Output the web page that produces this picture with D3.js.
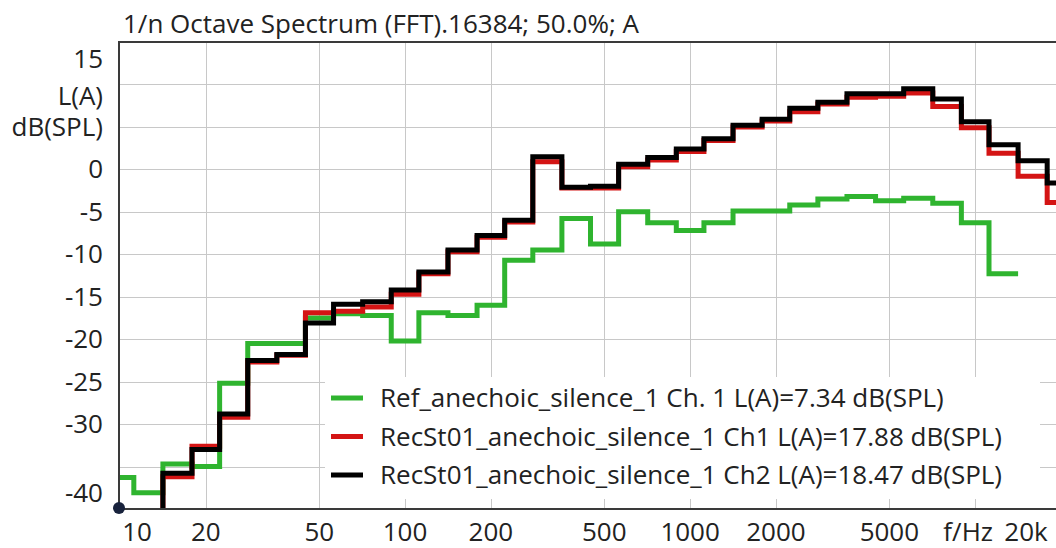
<!DOCTYPE html>
<html>
<head>
<meta charset="utf-8">
<script src="https://cdn.jsdelivr.net/npm/d3@7"></script>
<style>
  body { margin: 0; background: #fff; }
  text { font-family: "Open Sans", "Noto Sans", sans-serif; fill: #222; }
</style>
</head>
<body>
<svg width="1056" height="548"></svg>
<script>
// 1/3 octave band centres (Hz)
var bands = [10, 12.5, 16, 20, 25, 31.5, 40, 50, 63, 80, 100, 125, 160, 200, 250, 315, 400, 500,
             630, 800, 1000, 1250, 1600, 2000, 2500, 3150, 4000, 5000, 6300, 8000, 10000, 12500, 16000, 20000];

// band levels, dB(SPL) A-weighted
var refCh1 = [-36.3, -38.1, -34.7, -35.0, -25.2, -20.5, -20.5, -17.5, -17.0, -17.2, -20.2, -16.9, -17.2, -16.0, -10.7, -9.5, -5.8, -8.8,
              -5.0, -6.3, -7.2, -6.3, -4.9, -4.9, -4.2, -3.5, -3.2, -3.7, -3.4, -4.0, -6.3, -12.3, null, null];
var recCh1 = [null, -48, -36.2, -32.6, -29.2, -22.7, -21.9, -16.9, -16.7, -16.2, -14.7, -12.3, -9.7, -8.0, -6.2, 0.9, -2.2, -2.2,
              0.3, 1.1, 2.1, 3.4, 5.0, 5.7, 6.8, 7.7, 8.5, 8.6, 9.0, 7.4, 4.9, 1.9, -0.8, -3.9];
var recCh2 = [null, -48, -35.8, -33.0, -28.8, -22.5, -21.8, -18.1, -15.9, -15.6, -14.2, -12.1, -9.5, -7.8, -6.0, 1.5, -2.1, -2.0,
              0.6, 1.4, 2.4, 3.6, 5.2, 5.9, 7.2, 7.9, 8.9, 8.9, 9.5, 8.3, 5.6, 2.9, 1.0, -1.6];

var seriesNames = ["Ref_anechoic_silence_1 Ch. 1 L(A)=7.34 dB(SPL)",
                   "RecSt01_anechoic_silence_1 Ch1 L(A)=17.88 dB(SPL)",
                   "RecSt01_anechoic_silence_1 Ch2 L(A)=18.47 dB(SPL)"];
var seriesColors = ["#2fb42f", "#d41414", "#000000"];

var xGrid = [20, 50, 100, 200, 500, 1000, 2000, 5000, 10000];
var xLabels = ["10", "20", "50", "100", "200", "500", "1000", "2000", "5000", "f/Hz", "20k"];
var xLabelVals = [10, 20, 50, 100, 200, 500, 1000, 2000, 5000, 10000, 20000];
var yGrid = [-40, -35, -30, -25, -20, -15, -10, -5, 0, 5, 10, 15];
var yLabels = ["15", "L(A)", "dB(SPL)", "0", "-5", "-10", "-15", "-20", "-25", "-30", "-40"];
var yLabelVals = [15, 10, 5, 0, -5, -10, -15, -20, -25, -30, -40];

var title = "1/n Octave Spectrum (FFT).16384; 50.0%; A";

var svg = d3.select("svg");
var pLeft = 120, pTop = 42, pBottom = 509, pRight = 1061;
var fs = 26;

var x = d3.scaleLog().domain([10, 20000]).range([pLeft, pRight]);
var y = d3.scaleLinear().domain([-40, 15]).range([pBottom, pTop]);

// band edges: geometric midpoints between centres
var edges = [];
for (var i = 0; i <= bands.length; i++) {
  if (i == 0) edges.push(bands[0] / Math.pow(10, 0.05));
  else if (i == bands.length) edges.push(bands[i - 1] * Math.pow(10, 0.05));
  else edges.push(Math.sqrt(bands[i - 1] * bands[i]));
}

svg.append("clipPath").attr("id", "plot")
  .append("rect").attr("x", pLeft - 1).attr("y", pTop).attr("width", pRight - pLeft + 1).attr("height", pBottom - pTop);

// grid
var grid = svg.append("g").attr("stroke", "#c8c8c8").attr("stroke-width", 1);
grid.selectAll(".gx").data(xGrid).enter().append("line")
  .attr("x1", function(d) { return Math.round(x(d)) + 0.5; })
  .attr("x2", function(d) { return Math.round(x(d)) + 0.5; })
  .attr("y1", pTop).attr("y2", pBottom);
grid.selectAll(".gy").data(yGrid).enter().append("line")
  .attr("x1", pLeft).attr("x2", 1056)
  .attr("y1", function(d) { return Math.round(y(d)) + 0.5; })
  .attr("y2", function(d) { return Math.round(y(d)) + 0.5; });

// step lines
function stepPoints(vals) {
  var pts = [];
  vals.forEach(function(v, i) {
    pts.push([edges[i], v]);
    pts.push([edges[i + 1], v]);
  });
  return pts;
}
var line = d3.line()
  .defined(function(d) { return d[1] != null; })
  .x(function(d) { return x(d[0]); })
  .y(function(d) { return y(d[1]); });

var lines = svg.append("g").attr("clip-path", "url(#plot)");
[refCh1, recCh1, recCh2].forEach(function(vals, i) {
  lines.append("path")
    .attr("d", line(stepPoints(vals)))
    .attr("fill", "none")
    .attr("stroke", seriesColors[i])
    .attr("stroke-width", 5)
    .attr("stroke-linejoin", "miter");
});

// frame
var frame = svg.append("g").attr("stroke", "#3a3a3a").attr("stroke-width", 2);
frame.append("line").attr("x1", 119).attr("x2", 119).attr("y1", pTop).attr("y2", pBottom);
frame.append("line").attr("x1", 118).attr("x2", 1056).attr("y1", pTop).attr("y2", pTop);
frame.append("line").attr("x1", 118).attr("x2", 1056).attr("y1", pBottom).attr("y2", pBottom);

// legend
var lg = svg.append("g");
lg.append("rect").attr("x", 325).attr("y", 377).attr("width", 715).attr("height", 122).attr("fill", "#fff");
seriesNames.forEach(function(name, i) {
  var ly = 398 + i * 38.5;
  lg.append("line").attr("x1", 331).attr("x2", 363).attr("y1", ly).attr("y2", ly)
    .attr("stroke", seriesColors[i]).attr("stroke-width", 5);
  lg.append("text").attr("x", 380).attr("y", ly).attr("dy", "0.35em")
    .attr("font-size", fs).text(name);
});

// origin marker
svg.append("circle").attr("cx", 119).attr("cy", 508).attr("r", 6).attr("fill", "#18223c");

// x labels
svg.selectAll(".xl").data(xLabels).enter().append("text")
  .attr("x", function(d, i) {
    var px = x(xLabelVals[i]);
    if (i == 0) px += 17;
    if (i == xLabels.length - 1) px = 1026;
    if (d == "f/Hz") px -= 7;
    return px;
  })
  .attr("y", 532).attr("dy", "0.35em")
  .attr("text-anchor", "middle").attr("font-size", fs)
  .text(function(d) { return d; });

// y labels
svg.selectAll(".yl").data(yLabels).enter().append("text")
  .attr("x", 103)
  .attr("y", function(d, i) {
    var v = yLabelVals[i];
    if (v == 15) return 59;
    if (v == 10) return 96;
    if (v == -40) return 493;
    return y(v);
  })
  .attr("dy", "0.35em").attr("text-anchor", "end").attr("font-size", fs)
  .text(function(d) { return d; });

svg.append("text").attr("x", 123).attr("y", 33).attr("font-size", fs).text(title);
</script>
</body>
</html>
